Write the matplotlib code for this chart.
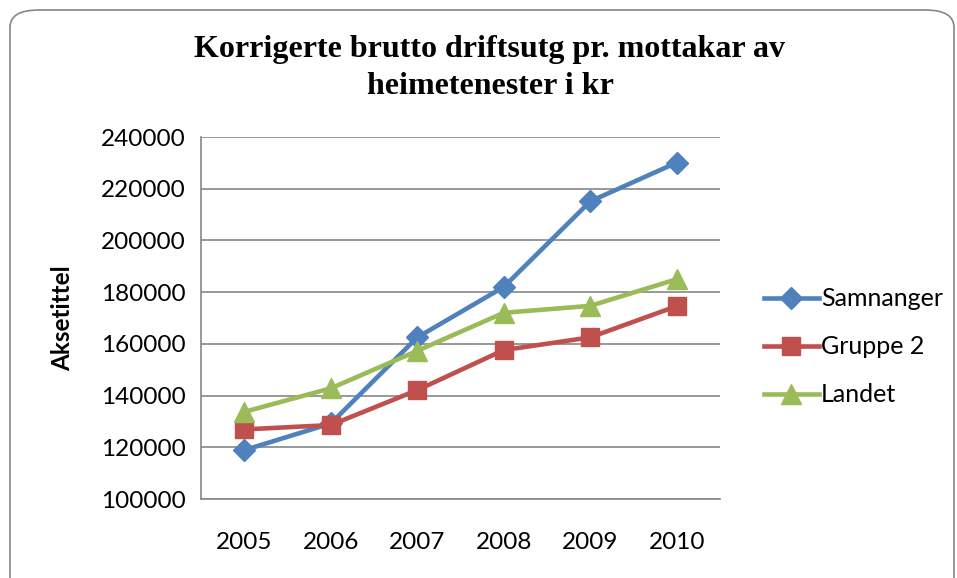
import matplotlib
matplotlib.use("Agg")
import matplotlib.pyplot as plt
from matplotlib.patches import FancyBboxPatch

years = ["2005", "2006", "2007", "2008", "2009", "2010"]
samnanger = [118900, 129200, 162500, 182000, 215100, 230100]
gruppe2 = [126900, 128600, 142100, 157600, 162500, 174600]
landet = [133700, 142800, 157300, 172000, 174700, 185000]

plt.rcParams['font.family'] = ['Lato', 'DejaVu Sans']

fig = plt.figure(figsize=(9.57, 5.78), dpi=100)
ax = fig.add_axes([201/957, 1 - 499/578, (720-201)/957, (499-137)/578])

# rounded chart border
border = FancyBboxPatch((10/957, -20/578), 944/957, 588/578,
                        boxstyle="round,pad=0,rounding_size=0.03",
                        transform=fig.transFigure, facecolor="white",
                        edgecolor="#868686", linewidth=1.2, zorder=-10)
fig.patches.append(border)

x = range(len(years))
ax.plot(x, samnanger, color="#4F81BD", lw=3.3, marker="D", ms=11, label="Samnanger")
ax.plot(x, gruppe2, color="#C0504D", lw=3.3, marker="s", ms=13, label="Gruppe 2")
ax.plot(x, landet, color="#9BBB59", lw=3.3, marker="^", ms=14, label="Landet")

ax.set_xlim(-0.5, 5.5)
ax.set_ylim(100000, 240000)
ax.set_yticks(range(100000, 240001, 20000))
ax.set_xticks(list(x))
ax.set_xticklabels(years)
ax.yaxis.grid(True, color="#868686", lw=1.2)
ax.set_axisbelow(True)
for s in ["top", "right"]:
    ax.spines[s].set_visible(False)
for s in ["left", "bottom"]:
    ax.spines[s].set_color("#868686")
    ax.spines[s].set_linewidth(1.2)
ax.tick_params(length=0, labelsize=17.5, pad=11)
ax.tick_params(axis="x", pad=24)

ax.set_ylabel("Aksetittel", fontsize=17.5, fontweight="bold", labelpad=19)

fig.text(490/957, 1 - 68/578, "Korrigerte brutto driftsutg pr. mottakar av\nheimetenester i kr",
         ha="center", va="center", fontsize=23, fontweight="bold",
         family="Liberation Serif", linespacing=1.38)

ax.legend(loc="center left", bbox_to_anchor=(1.065, 0.42), frameon=False,
          fontsize=18, handlelength=2.2, handletextpad=0.1, labelspacing=1.0,
          borderaxespad=0)

fig.savefig("out.png", dpi=100)
